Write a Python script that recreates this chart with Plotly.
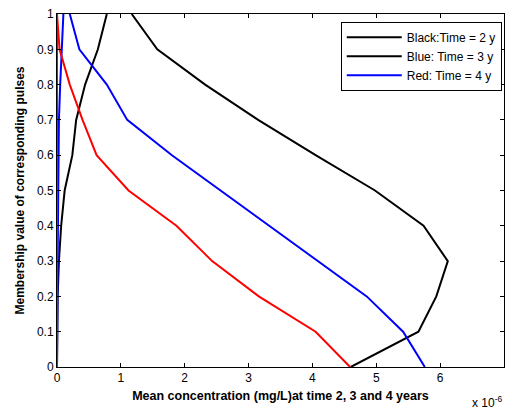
import plotly.graph_objects as go

# Membership levels
mu = [0, 0.1, 0.2, 0.3, 0.4, 0.5, 0.6, 0.7, 0.8, 0.9, 1.0]

# Mean concentration values (units of 1e-6 mg/L)
black_left = [0.0, 0.0, 0.01, 0.03, 0.065, 0.12, 0.24, 0.30, 0.44, 0.64, 0.78]
black_right = [4.6, 5.66, 5.94, 6.12, 5.74, 4.98, 4.05, 3.15, 2.32, 1.57, 1.17]
blue_left = [0.0, 0.0, 0.005, 0.01, 0.015, 0.02, 0.025, 0.03, 0.05, 0.07, 0.10]
blue_right = [5.76, 5.42, 4.85, 4.09, 3.32, 2.56, 1.80, 1.10, 0.78, 0.35, 0.20]
red_left = [0.0, 0.0, 0.0, 0.0, 0.0, 0.0, 0.0, 0.0, 0.0, 0.0, 0.0]
red_right = [4.59, 4.05, 3.16, 2.43, 1.87, 1.12, 0.62, 0.40, 0.20, 0.04, 0.0]

x_ticks = [0, 1, 2, 3, 4, 5, 6, 7]
y_ticktext = ["0", "0.1", "0.2", "0.3", "0.4", "0.5", "0.6", "0.7", "0.8", "0.9", "1"]

legend_names = ["Black:Time = 2 y", "Blue: Time = 3 y", "Red: Time = 4 y"]

series = [
    (black_left, "black", legend_names[0], True),
    (black_right, "black", legend_names[1], True),
    (blue_left, "blue", legend_names[2], True),
    (blue_right, "blue", None, False),
    (red_left, "red", None, False),
    (red_right, "red", None, False),
]

fig = go.Figure()
for xs, col, name, show in series:
    fig.add_trace(go.Scatter(
        x=xs, y=mu, mode="lines", name=name, showlegend=show,
        line=dict(color=col, width=2),
    ))

fam = "Liberation Sans, Arial, sans-serif"
font = dict(family=fam, size=12, color="black")

fig.update_layout(
    width=507, height=409,
    margin=dict(l=57, r=3, t=14, b=42),
    paper_bgcolor="white", plot_bgcolor="white",
    font=font,
    showlegend=True,
    legend=dict(
        x=0.995, y=0.978, xanchor="right", yanchor="top",
        bgcolor="white", bordercolor="black", borderwidth=1,
        font=dict(family=fam, size=12),
        tracegroupgap=0, itemwidth=55,
    ),
)
fig.update_xaxes(
    range=[0, 7], tickvals=x_ticks,
    ticks="inside", ticklen=4, tickcolor="black", mirror="allticks",
    showline=True, linecolor="black", linewidth=1,
    showgrid=False, zeroline=False,
    title=dict(text="<b>Mean concentration (mg/L)at time 2, 3 and 4 years</b>",
               font=dict(size=12.5), standoff=6),
)
fig.update_yaxes(
    range=[0, 1], tickvals=mu, ticktext=y_ticktext,
    ticks="inside", ticklen=4, tickcolor="black", mirror="allticks",
    showline=True, linecolor="black", linewidth=1,
    showgrid=False, zeroline=False,
    title=dict(text="<b>Membership value of corresponding pulses</b>",
               font=dict(size=12), standoff=9),
)
fig.add_annotation(
    x=1.0, y=0, xref="paper", yref="paper", xanchor="right", yanchor="top",
    yshift=-25, text="x 10<sup>-6</sup>", showarrow=False,
    font=dict(size=12),
)
fig.write_html("out.html")
